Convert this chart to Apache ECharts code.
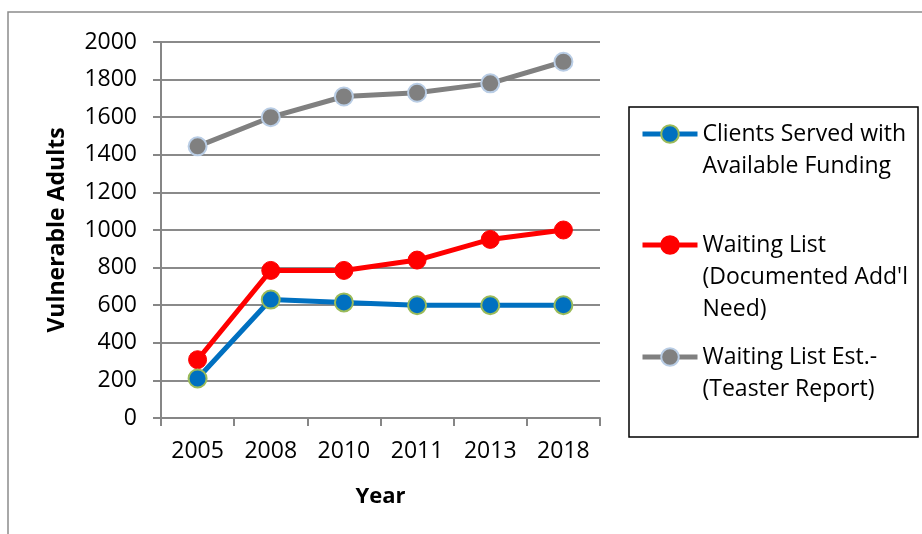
<!DOCTYPE html>
<html><head><meta charset="utf-8">
<script src="https://cdn.jsdelivr.net/npm/echarts@6/dist/echarts.min.js"></script>
<style>html,body{margin:0;padding:0;background:#fff}#c{width:922px;height:534px}</style>
</head><body><div id="c"></div>
<script>
const years = ['2005','2008','2010','2011','2013','2018'];
const clientsServed = [210, 630, 615, 600, 600, 600];
const waitingList = [310, 785, 785, 840, 950, 1000];
const waitingListEst = [1445, 1600, 1710, 1730, 1780, 1895];
const yTicks = {min: 0, max: 2000, interval: 200};
const seriesNames = ['Clients Served with\nAvailable Funding', "Waiting List\n(Documented Add'l\nNeed)", 'Waiting List Est.-\n(Teaster Report)'];

const FONT = 'Open Sans';
const LH = 32;
const legendTops = [86, 165, 309];
function mkLegend(i) {
  const n = seriesNames[i].split('\n').length;
  return {
    data: [seriesNames[i]], orient: 'vertical', left: 640, top: legendTops[i],
    itemWidth: 55, itemHeight: 22, itemGap: 0, padding: 0,
    lineStyle: {width: 5},
    formatter: function (name) { return '\n'.repeat(n - 1) + name; },
    textStyle: {fontFamily: FONT, fontSize: 23, color: '#000', lineHeight: LH}
  };
}
const chart = echarts.init(document.getElementById('c'));
chart.setOption({
  animation: false,
  grid: {left: 161, right: 322, top: 42, bottom: 116},
  graphic: [
    {type: 'rect', shape: {x: 8, y: 12, width: 1000, height: 1000}, style: {fill: 'none', stroke: '#8c8c8c', lineWidth: 1.5}, silent: true},
    {type: 'rect', shape: {x: 629, y: 107, width: 289, height: 330}, style: {fill: '#fff', stroke: '#000', lineWidth: 1.5}, z: -1, silent: true}
  ],
  legend: [mkLegend(0), mkLegend(1), mkLegend(2)],
  xAxis: {
    type: 'category', data: years, boundaryGap: true,
    name: 'Year', nameLocation: 'middle', nameGap: 68,
    nameTextStyle: {fontFamily: FONT, fontSize: 22, fontWeight: 'bold', color: '#000'},
    axisLine: {lineStyle: {color: '#868686', width: 2}},
    axisTick: {show: true, length: 8, lineStyle: {color: '#868686', width: 2}},
    axisLabel: {fontFamily: FONT, fontSize: 23, color: '#000', margin: 22}
  },
  yAxis: {
    type: 'value', min: yTicks.min, max: yTicks.max, interval: yTicks.interval,
    name: 'Vulnerable Adults', nameLocation: 'middle', nameGap: 92, nameRotate: 90,
    nameTextStyle: {fontFamily: FONT, fontSize: 23, fontWeight: 'bold', color: '#000'},
    axisLine: {show: true, lineStyle: {color: '#868686', width: 2}},
    axisTick: {show: true, length: 8, lineStyle: {color: '#868686', width: 2}},
    axisLabel: {fontFamily: FONT, fontSize: 23, color: '#000', margin: 24, formatter: function (v) { return String(v); }},
    splitLine: {lineStyle: {color: '#8a8a8a', width: 2}}
  },
  series: [
    {name: seriesNames[0], type: 'line', data: clientsServed, symbol: 'circle', symbolSize: 18,
     lineStyle: {color: '#0070C0', width: 5}, itemStyle: {color: '#0070C0', borderColor: '#9BBB59', borderWidth: 2}, z: 3},
    {name: seriesNames[1], type: 'line', data: waitingList, symbol: 'circle', symbolSize: 18,
     lineStyle: {color: '#FF0000', width: 5}, itemStyle: {color: '#FF0000', borderColor: '#FF0000', borderWidth: 1}, z: 2},
    {name: seriesNames[2], type: 'line', data: waitingListEst, symbol: 'circle', symbolSize: 18,
     lineStyle: {color: '#808080', width: 5}, itemStyle: {color: '#808080', borderColor: '#B9CDE5', borderWidth: 2}, z: 2}
  ]
});
</script></body></html>
